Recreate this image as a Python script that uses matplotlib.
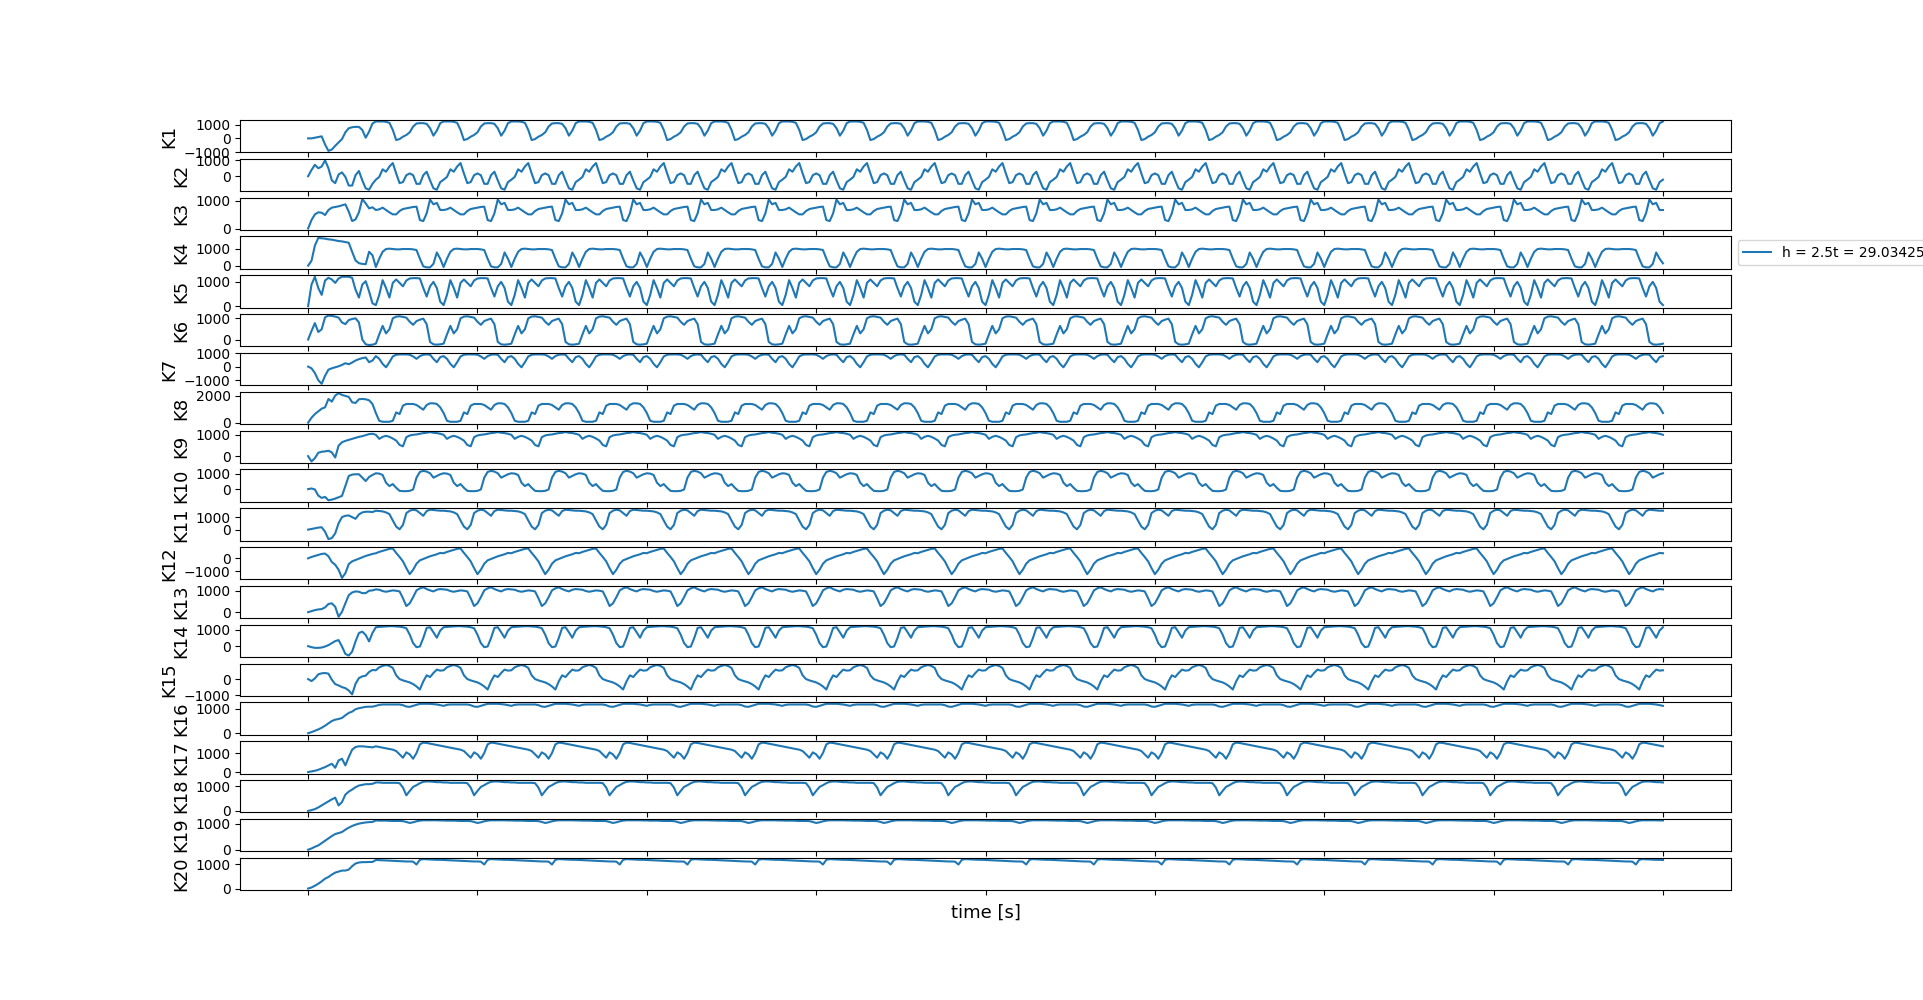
import numpy as np
import matplotlib
matplotlib.use('Agg')
import matplotlib.pyplot as plt

# time grid / ticks
dt = 0.05
n_cycles = 19
x_ticks = [0, 2.5, 5, 7.5, 10, 12.5, 15, 17.5, 20]
labels = ['K%d' % i for i in range(1, 21)]
legend_label = 'h = 2.5t = 29.034256'
x_label = 'time [s]'

# first (transient) period and steady period of each joint
k1_start = [0, 0, 49, 98, 147, -441, -906, -808, -539, -294, -49, 441, 735, 808, 833, 833, 612, 49, 490, 1078]
k1_cycle = [1225, 1225, 1225, 1200, 1127, 612, -122, -49, 122, 245, 441, 857, 1078, 1102, 1102, 1053, 735, 196, 563, 1102]
k2_start = [0, 392, 719, 501, 610, 1003, 501, -262, -436, 109, 240, -44, -589, -589, 65, 327, -262, -763, -850, -480]
k2_cycle = [-218, -44, 436, 283, 610, 828, 174, -436, -371, 65, 174, 65, -480, -480, 65, 283, -262, -763, -850, -371]
k3_start = [0, 307, 513, 586, 574, 489, 671, 756, 780, 804, 841, 877, 610, 270, 331, 586, 1065, 913, 731, 768]
k3_cycle = [671, 695, 756, 671, 586, 513, 513, 634, 707, 731, 756, 780, 792, 307, 270, 550, 1050, 877, 929, 671]
k4_start = [0, 291, 1206, 1664, 1643, 1622, 1581, 1560, 1518, 1477, 1456, 1414, 1373, 832, 312, 146, 104, 83, 832, 624]
k4_cycle = [-83, 416, 832, 998, 1019, 998, 978, 978, 998, 998, 998, 978, 936, 416, -42, -104, -104, 104, 790, 416]
k5_start = [0, 891, 1215, 750, 468, 1060, 1173, 1103, 962, 1145, 1215, 1215, 1215, 1173, 680, 355, 891, 1032, 609, 116]
k5_cycle = [45, 468, 1074, 750, 355, 962, 1103, 962, 821, 1060, 1145, 1159, 1159, 1145, 750, 398, 821, 1004, 750, 186]
k6_start = [0, 398, 763, 350, 477, 1034, 1113, 1097, 1065, 1018, 795, 715, 906, 954, 986, 795, 0, -223, -254, -239]
k6_cycle = [-191, 239, 636, 286, 477, 986, 1065, 1081, 1049, 1018, 827, 684, 859, 922, 970, 715, -111, -223, -239, -223]
k7_start = [0, -125, -475, -1000, -1270, -675, -225, -125, -50, 25, 125, 250, 175, 300, 450, 550, 625, 675, 325, 450]
k7_cycle = [775, 575, 200, -50, 325, 750, 875, 900, 900, 900, 875, 750, 575, 775, 875, 900, 875, 575, 325, 700]
k8_start = [0, 365, 640, 840, 1040, 1140, 1765, 1565, 2015, 2190, 2065, 1990, 1915, 1515, 1465, 1740, 1765, 1740, 1665, 1390]
k8_cycle = [715, 140, 65, 65, 65, 140, 765, 640, 1265, 1390, 1390, 1390, 1315, 1140, 965, 1315, 1440, 1440, 1390, 1140]
k9_start = [0, -250, -95, 159, 207, 223, 254, 175, -64, 493, 652, 716, 763, 811, 859, 906, 938, 986, 1034, 1049]
k9_cycle = [1002, 811, 906, 954, 906, 827, 731, 525, 461, 890, 970, 1002, 1018, 1049, 1081, 1097, 1130, 1097, 1081, 1049]
k10_start = [0, 44, -22, -422, -577, -511, -733, -688, -622, -533, -444, 200, 866, 955, 977, 977, 755, 533, 799, 932]
k10_cycle = [1043, 1021, 932, 422, 200, 333, 89, -111, -133, -133, -111, -22, 755, 1132, 1200, 1154, 1043, 755, 866, 977]
k11_start = [0, 56, 111, 167, 195, -167, -780, -695, -306, 528, 1029, 1140, 1168, 1029, 890, 1251, 1418, 1473, 1473, 1446]
k11_cycle = [1557, 1529, 1501, 1418, 1279, 751, 250, 28, 389, 1362, 1557, 1640, 1585, 1362, 1140, 1529, 1640, 1612, 1585, 1557]
k12_start = [0, 105, 184, 263, 342, 368, 158, -289, -500, -894, -1530, -1157, -447, -237, -132, -26, 79, 184, 263, 342]
k12_cycle = [395, 500, 579, 658, 736, 763, 421, 105, -237, -763, -1236, -894, -421, -158, -53, 53, 158, 237, 316, 421]
k13_start = [0, 48, 95, 127, 143, 223, 382, 413, 254, -215, 16, 413, 795, 922, 970, 954, 890, 890, 1002, 1018]
k13_cycle = [1065, 1049, 986, 954, 986, 1018, 1002, 970, 652, 286, 413, 700, 1018, 1113, 1160, 1081, 1018, 970, 1049, 1081]
k14_start = [0, -62, -104, -104, -83, -21, 62, 187, 312, 374, -21, -478, -580, -333, 291, 811, 894, 686, 291, 811]
k14_cycle = [1165, 1186, 1200, 1215, 1230, 1230, 1215, 1200, 1165, 1102, 707, 187, -62, -21, 499, 1123, 1165, 853, 520, 957]
k15_start = [0, -124, 41, 288, 350, 371, 330, -41, -309, -391, -494, -556, -700, -940, -288, 62, 165, 206, 433, 556]
k15_cycle = [536, 721, 803, 860, 803, 680, 227, 0, -82, -144, -206, -309, -453, -639, -144, 227, 124, 371, 577, 515]
k16_start = [0, 45, 100, 155, 223, 306, 401, 497, 552, 580, 621, 730, 826, 881, 977, 1018, 1045, 1073, 1080, 1080]
k16_cycle = [1114, 1155, 1169, 1169, 1169, 1169, 1169, 1169, 1141, 1086, 1073, 1114, 1155, 1196, 1196, 1196, 1196, 1182, 1169, 1141]
k17_start = [0, 32, 67, 120, 190, 260, 350, 438, 225, 612, 700, 350, 788, 1176, 1316, 1352, 1352, 1334, 1316, 1299]
k17_cycle = [1352, 1316, 1281, 1246, 1211, 1176, 1105, 929, 753, 1035, 929, 700, 1000, 1457, 1545, 1528, 1492, 1457, 1422, 1387]
k18_start = [0, 30, 71, 140, 222, 304, 386, 469, 537, 222, 359, 660, 783, 866, 962, 1030, 1058, 1085, 1085, 1099]
k18_cycle = [1154, 1154, 1140, 1140, 1140, 1140, 1140, 1126, 948, 633, 811, 975, 1044, 1126, 1181, 1195, 1195, 1181, 1167, 1167]
k19_start = [0, 48, 113, 165, 256, 347, 438, 529, 607, 646, 685, 776, 854, 919, 971, 1010, 1036, 1056, 1069, 1075]
k19_cycle = [1134, 1127, 1127, 1127, 1121, 1114, 1114, 1114, 1108, 1075, 1036, 1062, 1101, 1127, 1140, 1140, 1140, 1140, 1140, 1134]
k20_start = [0, 44, 114, 197, 295, 406, 475, 573, 656, 698, 740, 740, 781, 920, 1031, 1073, 1087, 1087, 1094, 1094]
k20_cycle = [1177, 1170, 1163, 1156, 1150, 1143, 1136, 1129, 1122, 1115, 1115, 1108, 990, 1184, 1212, 1205, 1198, 1191, 1184, 1184]

# value at the very last sample (t = 20)
end_values = [1225, -218, 671, 137, 45, -191, 775, 715, 1002, 1043,
              1557, 395, 1065, 1165, 536, 1114, 1352, 1154, 1134, 1177]

starts = [k1_start, k2_start, k3_start, k4_start, k5_start, k6_start, k7_start, k8_start, k9_start, k10_start,
          k11_start, k12_start, k13_start, k14_start, k15_start, k16_start, k17_start, k18_start, k19_start, k20_start]
cycles = [k1_cycle, k2_cycle, k3_cycle, k4_cycle, k5_cycle, k6_cycle, k7_cycle, k8_cycle, k9_cycle, k10_cycle,
          k11_cycle, k12_cycle, k13_cycle, k14_cycle, k15_cycle, k16_cycle, k17_cycle, k18_cycle, k19_cycle, k20_cycle]

fig, axes = plt.subplots(20, 1, sharex=True, figsize=(19.23, 10), dpi=100)
for i, ax in enumerate(axes):
    y = np.concatenate([starts[i], np.tile(cycles[i], n_cycles), [end_values[i]]])
    t = np.arange(len(y)) * dt
    line, = ax.plot(t, y, color='#1f77b4', lw=1.5)
    ax.set_ylabel(labels[i], fontsize=13)
    ax.tick_params(labelbottom=False)
    if i == 3:
        ax.legend([line], [legend_label], loc='center left', bbox_to_anchor=(1.0, 0.5))
axes[-1].set_xticks(x_ticks)
axes[-1].set_xlabel(x_label, fontsize=13, labelpad=6.7)
fig.savefig('out.png', dpi=100)
